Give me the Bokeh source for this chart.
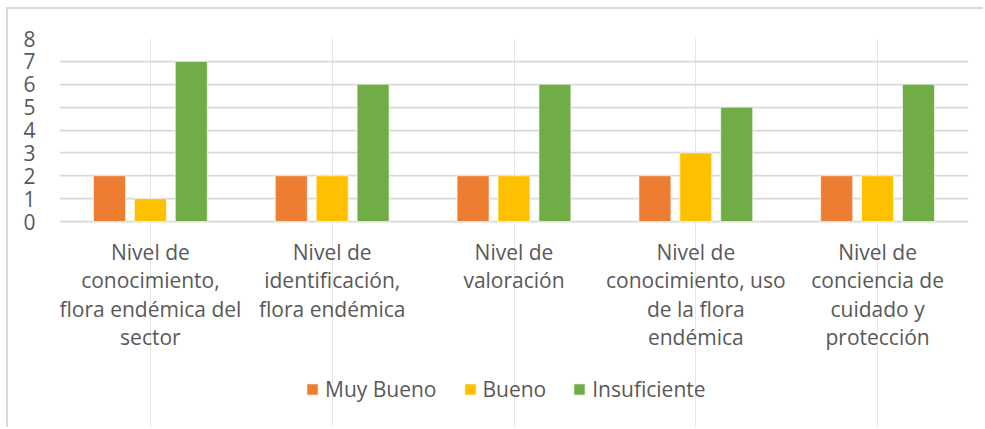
from bokeh.plotting import figure
from bokeh.models import ColumnDataSource, FactorRange, Range1d, Legend, LegendItem, FixedTicker
from bokeh.core.properties import value
from bokeh.transform import dodge
from bokeh.embed import file_html
from bokeh.resources import INLINE

categories = [
    "Nivel de\nconocimiento,\nflora endémica del\nsector",
    "Nivel de\nidentificación,\nflora endémica",
    "Nivel de\nvaloración",
    "Nivel de\nconocimiento, uso\nde la flora\nendémica",
    "Nivel de\nconciencia de\ncuidado y\nprotección",
]
muy_bueno = [2, 2, 2, 2, 2]
bueno = [1, 2, 2, 3, 2]
insuficiente = [7, 6, 6, 5, 6]
series_names = ["Muy Bueno", "Bueno", "Insuficiente"]
y_ticks = [0, 1, 2, 3, 4, 5, 6, 7, 8]

FONT = "Open Sans"
FS = "21px"
TXT = "#595959"
colors = ["#ED7D31", "#FFC000", "#70AD47"]

# layout: value axis 0..8 spans 183 px; the frame continues 208 px below 0
# to hold the category labels and the legend
PLOT_PX = 183
BELOW_PX = 208
y_top = max(y_ticks)
y_bottom = -y_top * BELOW_PX / PLOT_PX

source = ColumnDataSource(dict(cat=categories, mb=muy_bueno, b=bueno, ins=insuficiente))

p = figure(
    x_range=FactorRange(*categories, range_padding=0),
    y_range=Range1d(y_bottom, y_top),
    width=977, height=420, x_axis_location=None,
    min_border_left=51, min_border_right=17, min_border_top=29, min_border_bottom=0,
    output_backend="svg", toolbar_location=None,
    styles={"margin-left": "6px", "margin-top": "7px",
            "border-top": "2px solid #d9d9d9", "border-left": "2px solid #d9d9d9"},
)
p.outline_line_color = None
p.background_fill_color = "white"
p.border_fill_color = "white"

renderers = []
for col, off, c in zip(["mb", "b", "ins"], [-0.225, 0.0, 0.225], colors):
    r = p.vbar(x=dodge("cat", off, range=p.x_range), top=col, width=0.176, bottom=0,
               source=source, fill_color=c, line_color="white", line_alpha=0.6, line_width=1)
    renderers.append(r)

# category labels under the zero line
p.text(x="cat", y=0, text="cat", source=source,
       text_font=value(FONT), text_font_size=value(FS), text_color=TXT,
       text_align="center", text_baseline="top", y_offset=16, text_line_height=1.02)

p.ygrid.grid_line_color = "#d9d9d9"
p.ygrid.grid_line_width = 1.75
p.yaxis.ticker = FixedTicker(ticks=y_ticks)
p.yaxis.axis_line_color = None
p.yaxis.major_tick_line_color = None
p.yaxis.minor_tick_line_color = None
p.yaxis.major_tick_out = 0
p.yaxis.major_label_standoff = 24
p.yaxis.major_label_text_font = FONT
p.yaxis.major_label_text_font_size = FS
p.yaxis.major_label_text_color = TXT

legend = Legend(
    items=[LegendItem(label=n, renderers=[r]) for n, r in zip(series_names, renderers)],
    orientation="horizontal", location=(246, 26),
    glyph_width=14, glyph_height=14, label_height=20, label_standoff=6, spacing=26,
    padding=0, margin=0, border_line_color=None, background_fill_alpha=0,
    label_text_font=FONT, label_text_font_size=FS, label_text_color=TXT,
)
p.add_layout(legend, "center")

open("out.html", "w").write(file_html(p, INLINE))
